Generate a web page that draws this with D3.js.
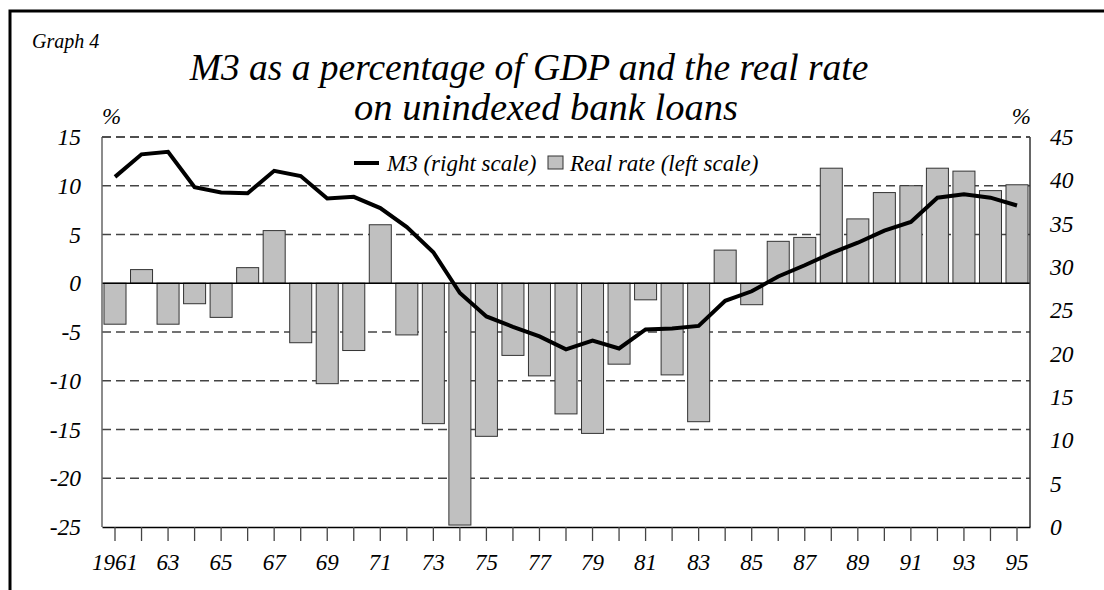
<!DOCTYPE html>
<html>
<head>
<meta charset="utf-8">
<script src="https://cdn.jsdelivr.net/npm/d3@7"></script>
<style>
  body { margin: 0; background: #fff; }
  text { font-family: "Liberation Serif", "Times New Roman", serif; font-style: italic; }
</style>
</head>
<body>
<script>
// data
const years = d3.range(1961, 1996);
const realRate = [-4.2, 1.4, -4.2, -2.1, -3.5, 1.6, 5.4, -6.1, -10.3, -6.9,
  6.0, -5.3, -14.4, -24.8, -15.7, -7.4, -9.5, -13.4, -15.4, -8.3,
  -1.7, -9.4, -14.2, 3.4, -2.2, 4.3, 4.7, 11.8, 6.6, 9.3,
  10.0, 11.8, 11.5, 9.5, 10.1];
const m3 = [40.4, 43.0, 43.3, 39.2, 38.6, 38.5, 41.1, 40.5, 37.9, 38.1,
  36.8, 34.6, 31.7, 27.0, 24.3, 23.1, 22.0, 20.5, 21.5, 20.6,
  22.8, 22.9, 23.2, 26.1, 27.2, 28.9, 30.2, 31.6, 32.8, 34.2,
  35.2, 38.0, 38.4, 38.0, 37.1];
const leftTicks = [15, 10, 5, 0, -5, -10, -15, -20, -25];
const rightTicks = [45, 40, 35, 30, 25, 20, 15, 10, 5, 0];

const W = 1104, H = 590;
const pLeft = 102, pRight = 1030, pTop = 137, pBottom = 527;

const svg = d3.select("body").append("svg").attr("width", W).attr("height", H);

// outer frame (cut by the picture edge)
svg.append("rect").attr("x", 10).attr("y", 11).attr("width", 1110).attr("height", 600)
  .attr("fill", "none").attr("stroke", "#000").attr("stroke-width", 3);

svg.append("text").attr("x", 32).attr("y", 48).attr("font-size", 20).text("Graph 4");
svg.append("text").attr("x", 529).attr("y", 80).attr("font-size", 37.5).attr("text-anchor", "middle")
  .text("M3 as a percentage of GDP and the real rate");
svg.append("text").attr("x", 546).attr("y", 120).attr("font-size", 38.5).attr("text-anchor", "middle")
  .text("on unindexed bank loans");
svg.append("text").attr("x", 102).attr("y", 124).attr("font-size", 23).text("%");
svg.append("text").attr("x", 1031).attr("y", 124).attr("font-size", 23).attr("text-anchor", "end").text("%");

const x = d3.scaleBand().domain(years).range([pLeft, pRight]).paddingInner(0.17).paddingOuter(0.075);
const yL = d3.scaleLinear().domain([-25, 15]).range([pBottom, pTop]);
const yR = d3.scaleLinear().domain([0, 45]).range([pBottom, pTop]);

// dashed grid
svg.append("g").selectAll("line")
  .data(leftTicks.filter(d => d !== 0 && d !== -25))
  .join("line")
  .attr("x1", pLeft).attr("x2", pRight)
  .attr("y1", d => yL(d)).attr("y2", d => yL(d))
  .attr("stroke", "#444").attr("stroke-width", 1.3).attr("stroke-dasharray", "9,5");

// bars
svg.append("g").selectAll("rect")
  .data(realRate)
  .join("rect")
  .attr("x", (d, i) => x(years[i]))
  .attr("width", x.bandwidth())
  .attr("y", d => yL(Math.max(0, d)))
  .attr("height", d => Math.abs(yL(d) - yL(0)))
  .attr("fill", "#c0c0c0").attr("stroke", "#333").attr("stroke-width", 1);

// zero line
svg.append("line").attr("x1", pLeft).attr("x2", pRight).attr("y1", yL(0)).attr("y2", yL(0))
  .attr("stroke", "#000").attr("stroke-width", 1.5);

// frame of plot
svg.append("line").attr("x1", pLeft).attr("x2", pLeft).attr("y1", pTop).attr("y2", pBottom)
  .attr("stroke", "#666").attr("stroke-width", 1.5);
svg.append("line").attr("x1", pRight).attr("x2", pRight).attr("y1", pTop).attr("y2", pBottom)
  .attr("stroke", "#333").attr("stroke-width", 1.5);

// M3 line
const line = d3.line().x((d, i) => x(years[i]) + x.bandwidth() / 2).y(d => yR(d));
svg.append("path").datum(m3).attr("d", line)
  .attr("fill", "none").attr("stroke", "#000").attr("stroke-width", 4);

// axes
const xAxis = svg.append("g").attr("transform", `translate(0,${pBottom})`)
  .call(d3.axisBottom(x).tickSize(14).tickSizeOuter(0).tickPadding(13)
    .tickFormat(d => d === 1961 ? "1961" : (d % 2 === 1 ? String(d).slice(2) : "")));
xAxis.select(".domain").attr("stroke", "#000").attr("stroke-width", 1.5);
xAxis.selectAll(".tick line").attr("stroke", "#444").attr("stroke-width", 1.3);
xAxis.selectAll(".tick text").attr("font-size", 23).attr("fill", "#000")
  .attr("font-family", "Liberation Serif").attr("font-style", "italic");

const yAxisL = svg.append("g").attr("transform", `translate(${pLeft},0)`)
  .call(d3.axisLeft(yL).tickValues(leftTicks).tickSize(0).tickPadding(21).tickFormat(d => String(d)));
yAxisL.select(".domain").remove();
yAxisL.selectAll("text").attr("font-size", 23.5).attr("fill", "#000")
  .attr("font-family", "Liberation Serif").attr("font-style", "italic");

const yAxisR = svg.append("g").attr("transform", `translate(${pRight},0)`)
  .call(d3.axisRight(yR).tickValues(rightTicks).tickSize(0).tickPadding(20).tickFormat(d => String(d)));
yAxisR.select(".domain").remove();
yAxisR.selectAll("text").attr("font-size", 23.5).attr("fill", "#000")
  .attr("font-family", "Liberation Serif").attr("font-style", "italic");

// top dashed border
svg.append("line").attr("x1", pLeft).attr("x2", pRight).attr("y1", pTop).attr("y2", pTop)
  .attr("stroke", "#444").attr("stroke-width", 1.3).attr("stroke-dasharray", "9,5");

// legend
const lg = svg.append("g");
lg.append("line").attr("x1", 354).attr("x2", 379).attr("y1", 163).attr("y2", 163)
  .attr("stroke", "#000").attr("stroke-width", 4);
lg.append("text").attr("x", 387).attr("y", 171).attr("font-size", 23).text("M3 (right scale)");
lg.append("rect").attr("x", 548).attr("y", 156).attr("width", 15).attr("height", 13)
  .attr("fill", "#c0c0c0").attr("stroke", "#333").attr("stroke-width", 1);
lg.append("text").attr("x", 570).attr("y", 171).attr("font-size", 23).text("Real rate (left scale)");
</script>
</body>
</html>
